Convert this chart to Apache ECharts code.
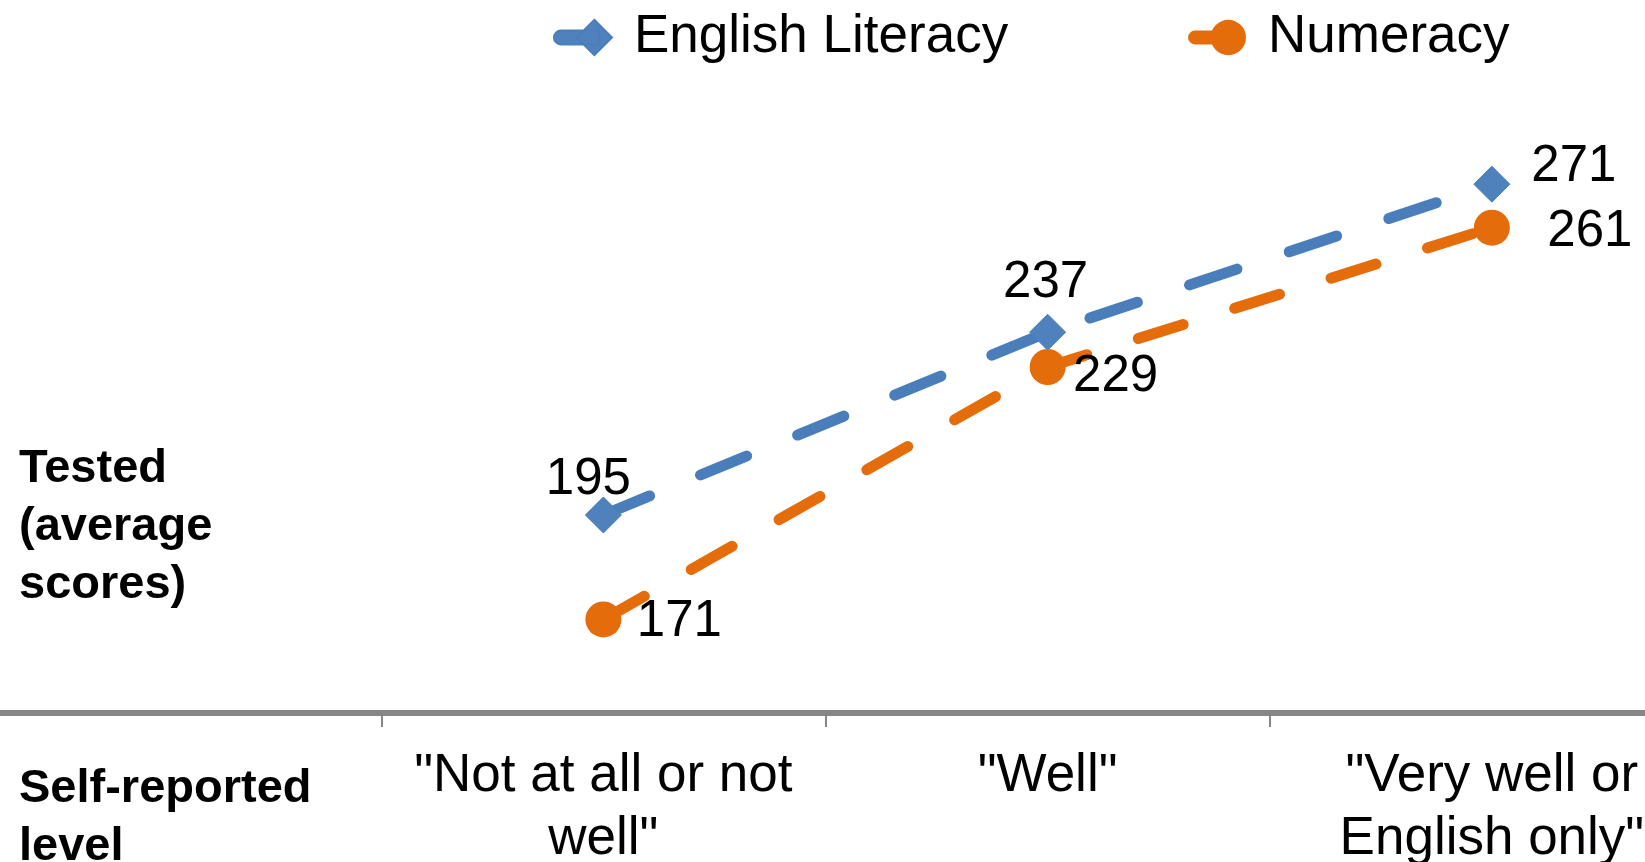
<!DOCTYPE html>
<html>
<head>
<meta charset="utf-8">
<script src="https://cdn.jsdelivr.net/npm/echarts@6/dist/echarts.min.js"></script>
<style>
html,body{margin:0;padding:0;background:#fff;}
#chart{width:1645px;height:862px;}
</style>
</head>
<body>
<div id="chart"></div>
<script>
// ---- data ----
const categories = ['', '"Not at all or not\nwell"', '"Well"', '"Very well or\nEnglish only"'];
const seriesNames = ['English Literacy', 'Numeracy'];
const englishLiteracy = ['-', 195, 237, 271];
const numeracy = ['-', 171, 229, 261];
const yTitle = 'Tested\n(average\nscores)';
const xTitle = 'Self-reported\nlevel';

// ---- layout / style (not data) ----
const englishLabelOffsets = [null, [-15, -35], [-2, -49], [82, -17]];
const numeracyLabelOffsets = [null, [76, 3], [68, 10], [98, 4]];
const FONT = '"Liberation Sans", Arial, sans-serif';
const BLUE = '#4f81bd', BLUE_LINE = '#4a7ebb';
const ORANGE = '#e46c0a';

const diamondIcon = 'path://M6,11 L45,11 L45,25 L6,25 A7,7 0 0 1 6,11 Z M40,0 L58,18 L40,36 L22,18 Z';
const circleIcon = 'path://M6,11 L45,11 L45,25 L6,25 A7,7 0 0 1 6,11 Z M22,18 A18,18 0 1 1 58,18 A18,18 0 1 1 22,18 Z';

function makeLabelLayout(offsets) {
  return function (params) {
    const o = offsets[params.dataIndex] || [0, 0];
    return { dx: o[0], dy: o[1] };
  };
}

const chart = echarts.init(document.getElementById('chart'), null, { renderer: 'canvas' });

const legendBase = {
  orient: 'horizontal',
  top: 11,
  itemWidth: 58,
  itemHeight: 36,
  padding: 0,
  selectedMode: false,
  textStyle: { fontSize: 53, lineHeight: 52, color: '#000', fontFamily: FONT, padding: [0, 0, 0, 17] }
};

function labelBase() {
  return { show: true, position: 'inside', fontSize: 51, color: '#000', fontFamily: FONT };
}

chart.setOption({
  animation: false,
  backgroundColor: '#fff',
  legend: [
    Object.assign({}, legendBase, { left: 553, data: [{ name: seriesNames[0], icon: diamondIcon }] }),
    Object.assign({}, legendBase, { left: 1188, data: [{ name: seriesNames[1], icon: circleIcon }] })
  ],
  grid: {
    left: -63, right: -69, top: 58, bottom: 149,
    containLabel: false,
    outerBoundsMode: 'none'
  },
  xAxis: {
    type: 'category',
    data: categories,
    boundaryGap: true,
    axisLine: { show: true, lineStyle: { color: '#868686', width: 6 } },
    axisTick: { show: true, length: 14, interval: 0, lineStyle: { color: '#868686', width: 2 } },
    axisLabel: {
      interval: 0, margin: 32, fontSize: 53, lineHeight: 63,
      color: '#000', fontFamily: FONT
    },
    splitLine: { show: false }
  },
  yAxis: {
    type: 'value',
    min: 149.5,
    max: 300,
    show: false,
    splitLine: { show: false }
  },
  graphic: [
    {
      type: 'text', left: 19, top: 440,
      style: { text: yTitle, font: 'bold 47px ' + FONT, lineHeight: 58, fill: '#000' }
    },
    {
      type: 'text', left: 19, top: 760,
      style: { text: xTitle, font: 'bold 47px ' + FONT, lineHeight: 58, fill: '#000' }
    }
  ],
  series: [
    {
      name: seriesNames[0],
      type: 'line',
      data: englishLiteracy,
      symbol: 'diamond',
      symbolSize: 36,
      itemStyle: { color: BLUE, borderColor: BLUE_LINE, borderWidth: 1 },
      lineStyle: { color: BLUE_LINE, width: 11, type: [50, 55], cap: 'round' },
      label: labelBase(),
      labelLayout: makeLabelLayout(englishLabelOffsets),
      emphasis: { disabled: true },
      z: 2
    },
    {
      name: seriesNames[1],
      type: 'line',
      data: numeracy,
      symbol: 'circle',
      symbolSize: 36,
      itemStyle: { color: ORANGE },
      lineStyle: { color: ORANGE, width: 11, type: [47, 54], cap: 'round' },
      label: labelBase(),
      labelLayout: makeLabelLayout(numeracyLabelOffsets),
      emphasis: { disabled: true },
      z: 3
    }
  ]
});
</script>
</body>
</html>
